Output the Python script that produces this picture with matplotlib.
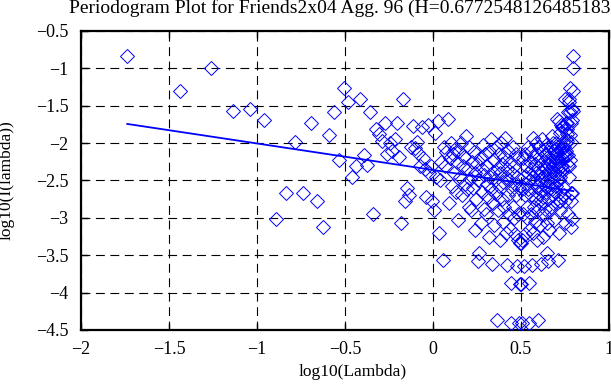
import numpy as np
import matplotlib
matplotlib.use("Agg")
import matplotlib.pyplot as plt

# ---------------- data ----------------
title_text = "Periodogram Plot for Friends2x04 Agg. 96 (H=0.6772548126485183)"
x_label = "log10(Lambda)"
y_label = "log10(I(lambda))"

n_samples = 343
# log10 periodogram for frequency index k = 1..171;
# the upper half k = 172..342 mirrors it, since I(2*pi - lambda) = I(lambda)
log_periodogram_half = [
    -0.83, -1.30, -0.99, -1.57, -1.55, -1.69, -3.02, -2.67, -1.99, -2.67,   # 1-10
    -1.73, -2.77, -3.12, -1.89, -1.58, -2.22, -1.26, -1.45, -2.45, -2.31,   # 11-20
    -1.41, -2.16, -2.29, -1.58, -2.95, -1.81, -1.88, -1.97, -1.73, -2.14,   # 21-30
    -2.00, -2.11, -1.95, -1.73, -2.18, -3.07, -1.41, -2.78, -2.60, -2.69,   # 31-40
    -2.05, -1.77, -2.07, -1.98, -2.13, -2.30, -1.79, -2.20, -2.35, -2.72,   # 41-50
    -1.76, -2.40, -2.30, -2.78, -2.89, -1.87, -2.45, -1.71, -3.20, -2.50,   # 51-60
    -2.25, -3.56, -2.05, -2.30, -2.12, -1.68, -2.80, -2.20, -2.00, -2.58,   # 61-70
    -2.15, -2.40, -2.08, -2.65, -2.25, -3.03, -2.10, -2.45, -2.00, -2.70,   # 71-80
    -2.30, -2.18, -2.55, -1.91, -2.62, -2.35, -2.85, -2.05, -2.48, -2.90,   # 81-90
    -2.25, -2.60, -2.12, -3.16, -2.40, -2.75, -2.28, -3.58, -2.50, -3.47,   # 91-100
    -2.20, -3.07, -2.35, -2.65, -2.02, -2.88, -2.42, -2.15, -2.95, -2.55,   # 101-110
    -2.30, -2.72, -2.10, -3.25, -2.45, -2.62, -1.94, -3.62, -2.38, -2.80,   # 111-120
    -2.22, -3.10, -2.50, -2.05, -2.68, -4.37, -2.33, -2.90, -2.15, -2.58,   # 121-130
    -3.30, -2.40, -2.00, -2.75, -2.28, -3.05, -2.52, -2.18, -2.85, -1.93,   # 131-140
    -2.45, -3.20, -3.63, -2.35, -2.70, -2.10, -2.95, -2.50, -2.25, -3.15,   # 141-150
    -4.41, -3.87, -2.40, -2.62, -2.05, -2.85, -3.00, -2.30, -2.55, -3.22,   # 151-160
    -2.15, -2.70, -3.65, -2.45, -2.95, -2.20, -3.30, -2.60, -4.41, -3.34,   # 161-170
    -3.88,                                                                  # 171
]

# least-squares line shown on the plot (slope = 1 - 2H)
fit_slope = -0.3545
fit_intercept = -2.359

x_ticks = [-2, -1.5, -1, -0.5, 0, 0.5, 1]
x_ticklabels = ["\u22122", "\u22121.5", "\u22121", "\u22120.5", "0", "0.5", "1"]
y_ticks = [-0.5, -1, -1.5, -2, -2.5, -3, -3.5, -4, -4.5]
y_ticklabels = ["\u22120.5", "\u22121", "\u22121.5", "\u22122", "\u22122.5",
                "\u22123", "\u22123.5", "\u22124", "\u22124.5"]

# ---------------- build ----------------
k = np.arange(1, n_samples)
log_lambda = np.log10(2 * np.pi * k / n_samples)
half = np.array(log_periodogram_half)
log_I = np.concatenate([half, half[::-1]])

plt.rcParams["font.family"] = ["Liberation Serif", "DejaVu Serif"]

W, H = 611, 385
fig = plt.figure(figsize=(W / 100, H / 100), dpi=100)
ax = fig.add_axes([81 / W, 55 / H, 528 / W, 299 / H])

ax.plot(log_lambda, log_I, linestyle="none", marker="D", ms=7.0,
        mfc="none", mec="#0000ff", mew=0.7, zorder=3)
fit_x = np.array([log_lambda[0], log_lambda[-1]])
ax.plot(fit_x, fit_intercept + fit_slope * fit_x, color="#0000ff", lw=1.3, zorder=4)

ax.set_xlim(-2, 1)
ax.set_ylim(-4.5, -0.5)
ax.set_xticks(x_ticks)
ax.set_xticklabels(x_ticklabels)
ax.set_yticks(y_ticks)
ax.set_yticklabels(y_ticklabels)

ax.grid(True, color="black", linewidth=0.8, linestyle=(0, (8, 5)))
ax.set_axisbelow(True)
for s in ax.spines.values():
    s.set_linewidth(1.6)
    s.set_color("black")
ax.tick_params(direction="in", length=5, width=1.0, top=True, right=True,
               labelsize=13, colors="black")
ax.tick_params(axis="x", pad=8)
ax.tick_params(axis="y", pad=9)

ax.set_xlabel(x_label, fontsize=12.5)
ax.xaxis.set_label_coords((353 - 81) / 528, -(364 - 330) / 299)
ax.set_ylabel(y_label, fontsize=12.5)
ax.yaxis.set_label_coords(-(81 - 15) / 528, 0.5)

fig.text(69 / W, 1 - 13 / H, title_text, fontsize=14, ha="left", va="baseline")

fig.savefig("out.png", dpi=100)
